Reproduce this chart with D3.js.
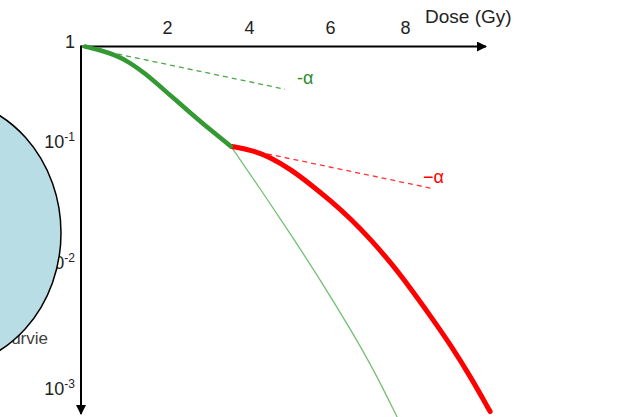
<!DOCTYPE html>
<html>
<head>
<meta charset="utf-8">
<script src="https://cdn.jsdelivr.net/npm/d3@7"></script>
<style>
  body { margin: 0; background: #fff; }
  svg { display: block; font-family: "Liberation Sans", Arial, sans-serif; }
</style>
</head>
<body>
<div id="chart"></div>
<script>
// 数据：剂量 Gy，存活分数
var xTicks = [2, 4, 6, 8];
var yTicks = [1, 0.1, 0.01, 0.001];
var yTickLabels = [["1", ""], ["10", "-1"], ["10", "-2"], ["10", "-3"]];

// 第一次照射（粗绿线）
var firstDose = [
  [0.07, 1.0], [0.42, 0.917], [0.78, 0.811], [1.13, 0.674], [1.48, 0.517],
  [1.95, 0.338], [2.56, 0.197], [3.05, 0.129], [3.56, 0.0885]
];
// 连续照射（细绿线）
var continuous = [
  [3.56, 0.0885], [4.30, 0.0386], [5.04, 0.0164], [5.78, 0.00693],
  [6.56, 0.00283], [7.2, 0.00131], [7.79, 0.000578]
];
// 分次后第二次照射（红线）
var secondDose = [
  [3.58, 0.0885], [4.05, 0.0829], [4.54, 0.0718], [5.04, 0.0568], [5.53, 0.0427],
  [6.03, 0.0312], [6.56, 0.0222], [7.09, 0.0150], [7.63, 0.00964], [8.16, 0.00600],
  [8.69, 0.00362], [9.23, 0.00213], [9.76, 0.00119], [10.27, 0.000638]
];
// 初始斜率 -α 切线
var tangentGreen = [[0, 1], [4.89, 0.349]];
var tangentRed = [[3.58, 0.0885], [8.72, 0.0398]];

var width = 633, height = 417;

var svg = d3.select("#chart").append("svg")
  .attr("width", width)
  .attr("height", height);

// 比例尺（原图刻度间距不均，用分段比例尺）
var x = d3.scaleLinear().domain([0, 2, 4, 6, 8]).range([82, 167, 249, 330, 405]);
var y = d3.scaleLog().domain([1, 0.1, 0.01, 0.001]).range([46.5, 140, 261, 387]);

var line = d3.line()
  .x(d => x(d[0]))
  .y(d => y(d[1]))
  .curve(d3.curveBasis);

// 箭头
var defs = svg.append("defs");
defs.append("marker")
  .attr("id", "arrow")
  .attr("viewBox", "0 0 10 10")
  .attr("refX", 9).attr("refY", 5)
  .attr("markerWidth", 6).attr("markerHeight", 5)
  .attr("markerUnits", "strokeWidth")
  .attr("orient", "auto")
  .append("path")
  .attr("d", "M0,0L10,5L0,10Z")
  .attr("fill", "#000");

// 左侧 "Survie" 文字，被椭圆遮挡
svg.append("text")
  .attr("x", 48).attr("y", 344)
  .attr("text-anchor", "end")
  .attr("font-size", 17)
  .attr("fill", "#404040")
  .text("Survie");

// Y 轴刻度标签
var yAxis = svg.append("g")
  .attr("transform", "translate(81,0)")
  .call(d3.axisLeft(y).tickValues(yTicks).tickSize(0).tickPadding(6).tickFormat(""));
yAxis.select(".domain").remove();
yAxis.selectAll(".tick text").each(function (d, i) {
  var t = d3.select(this)
    .attr("font-size", 18)
    .attr("fill", "#222")
    .attr("font-family", "Liberation Sans, Arial, sans-serif")
    .attr("dy", i === 0 ? "0.05em" : "0.4em");
  t.append("tspan").text(yTickLabels[i][0]);
  if (yTickLabels[i][1]) {
    t.append("tspan").attr("font-size", 12).attr("dy", -7).text(yTickLabels[i][1]);
  }
});

// 椭圆
svg.append("ellipse")
  .attr("cx", -60).attr("cy", 233)
  .attr("rx", 121).attr("ry", 135)
  .attr("fill", "#b9dde4")
  .attr("stroke", "#000")
  .attr("stroke-width", 1.5);

// X 轴刻度标签
var xAxis = svg.append("g")
  .attr("transform", "translate(0,46.5)")
  .call(d3.axisTop(x).tickValues(xTicks).tickSize(0).tickPadding(13));
xAxis.select(".domain").remove();
xAxis.selectAll(".tick text")
  .attr("font-size", 18)
  .attr("fill", "#222")
  .attr("font-family", "Liberation Sans, Arial, sans-serif");

svg.append("text")
  .attr("x", 425).attr("y", 23)
  .attr("font-size", 19)
  .attr("fill", "#222")
  .text("Dose (Gy)");

// 坐标轴线
svg.append("line")
  .attr("x1", 81).attr("y1", 46.5).attr("x2", 486).attr("y2", 46.5)
  .attr("stroke", "#000").attr("stroke-width", 2)
  .attr("marker-end", "url(#arrow)");
svg.append("line")
  .attr("x1", 81).attr("y1", 45.5).attr("x2", 81).attr("y2", 414)
  .attr("stroke", "#000").attr("stroke-width", 2)
  .attr("marker-end", "url(#arrow)");

// 切线
svg.append("path")
  .datum(tangentGreen)
  .attr("d", d3.line().x(d => x(d[0])).y(d => y(d[1])))
  .attr("fill", "none")
  .attr("stroke", "#4aa84a")
  .attr("stroke-width", 1.3)
  .attr("stroke-dasharray", "5,4");
svg.append("path")
  .datum(tangentRed)
  .attr("d", d3.line().x(d => x(d[0])).y(d => y(d[1])))
  .attr("fill", "none")
  .attr("stroke", "#ff3333")
  .attr("stroke-width", 1.3)
  .attr("stroke-dasharray", "5,4");

// 曲线
svg.append("path")
  .datum(continuous)
  .attr("d", line)
  .attr("fill", "none")
  .attr("stroke", "#74bf74")
  .attr("stroke-width", 1.3);
svg.append("path")
  .datum(secondDose)
  .attr("d", line)
  .attr("fill", "none")
  .attr("stroke", "#ff0000")
  .attr("stroke-width", 5)
  .attr("stroke-linecap", "round");
svg.append("path")
  .datum(firstDose)
  .attr("d", line)
  .attr("fill", "none")
  .attr("stroke", "#339933")
  .attr("stroke-width", 4.5)
  .attr("stroke-linecap", "round");

// -α 标注
svg.append("text")
  .attr("x", x(4.89) + 12).attr("y", y(0.349) - 5)
  .attr("font-size", 18)
  .attr("fill", "#2e8b2e")
  .text("-α");
svg.append("text")
  .attr("x", x(8.72) - 9).attr("y", y(0.0398) - 5)
  .attr("font-size", 18)
  .attr("fill", "#ff0000")
  .text("−α");
</script>
</body>
</html>
